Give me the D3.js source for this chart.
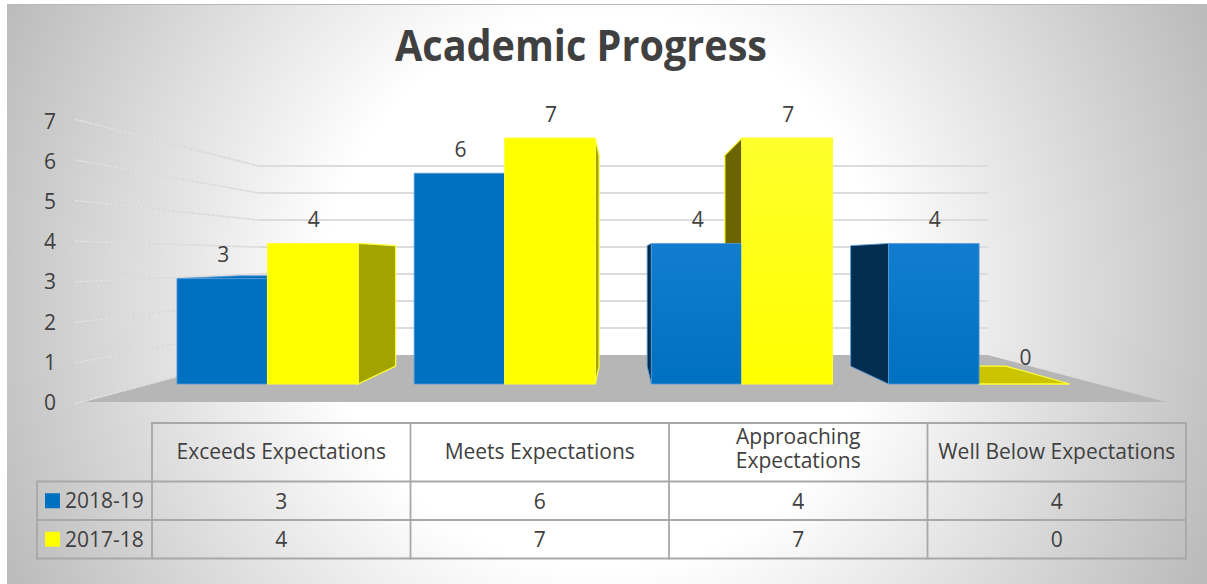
<!DOCTYPE html>
<html>
<head>
<meta charset="utf-8">
<script src="https://cdn.jsdelivr.net/npm/d3@7/dist/d3.min.js"></script>
<style>
  html, body { margin: 0; padding: 0; background: #fff; }
  svg { display: block; }
  text { font-family: "Open Sans", sans-serif; fill: #404040; }
</style>
</head>
<body>
<div id="chart"></div>
<script>
const titleText = "Academic Progress";
const categories = ["Exceeds Expectations", "Meets Expectations", "Approaching Expectations", "Well Below Expectations"];
const seriesNames = ["2018-19", "2017-18"];
const values2018 = [3, 6, 4, 4];
const values2017 = [4, 7, 7, 0];
const yTicks = [0, 1, 2, 3, 4, 5, 6, 7];

const width = 1207, height = 584;
const seriesValues = [values2018, values2017];
const seriesColor = d3.scaleOrdinal(seriesNames, ["#0070C0", "#FFFF00"]);
const labelSize = 21;

const svg = d3.select("#chart").append("svg")
  .attr("width", width).attr("height", height)
  .attr("viewBox", `0 0 ${width} ${height}`);

const defs = svg.append("defs");
const panelGrad = defs.append("radialGradient").attr("id", "panel")
  .attr("gradientUnits", "userSpaceOnUse")
  .attr("cx", 603).attr("cy", 290).attr("r", 660);
panelGrad.append("stop").attr("offset", 0.42).attr("stop-color", "#ffffff");
panelGrad.append("stop").attr("offset", 1).attr("stop-color", "#bbbbbb");

const blueLit = defs.append("linearGradient").attr("id", "blueLit")
  .attr("x1", 0).attr("y1", 0).attr("x2", 0).attr("y2", 1);
blueLit.append("stop").attr("offset", 0).attr("stop-color", "#127DD0");
blueLit.append("stop").attr("offset", 1).attr("stop-color", "#0070C0");

const yellowLit = defs.append("linearGradient").attr("id", "yellowLit")
  .attr("x1", 0).attr("y1", 0).attr("x2", 0).attr("y2", 1);
yellowLit.append("stop").attr("offset", 0).attr("stop-color", "#FFFF2C");
yellowLit.append("stop").attr("offset", 1).attr("stop-color", "#FFFF00");

// Panel background with its thin top rule
svg.append("rect").attr("x", 7).attr("y", 4).attr("width", width - 7).attr("height", height - 4)
  .attr("fill", "url(#panel)");
svg.append("line").attr("x1", 7).attr("x2", width).attr("y1", 4.5).attr("y2", 4.5)
  .attr("stroke", "#b8b8b8").attr("stroke-width", 1);

svg.append("text").attr("x", 581).attr("y", 61).attr("text-anchor", "middle")
  .attr("font-size", 43).attr("font-weight", 700)
  .attr("textLength", 372).attr("lengthAdjust", "spacingAndGlyphs").text(titleText);

// Scales live on the front edge of the floor; project() pushes a point towards the vanishing point
const vanish = { x: 622, y: 258.6 };
const depth = { front: 0, barFront: 0.1255, barBack: 0.25, wall: 0.3278 };
const x0 = d3.scaleBand().domain(categories).range([81, 1166]);
const x1 = d3.scaleBand().domain(seriesNames).range([0, x0.bandwidth()]).paddingOuter(0.31).paddingInner(0);
const y = d3.scaleLinear().domain([0, 7]).range([402, 120.8]);
const project = (px, py, t) => [px + (vanish.x - px) * t, py + (vanish.y - py) * t];
const poly = pts => pts.map(p => p.join(",")).join(" ");

const plot = svg.append("g");

// Floor
plot.append("polygon").attr("fill", "#B6B6B6").attr("points", poly([
  project(x0.range()[0], y(0), depth.front),
  project(x0.range()[1], y(0), depth.front),
  project(x0.range()[1], y(0), depth.wall),
  project(x0.range()[0], y(0), depth.wall)
]));

// Back wall and side wall gridlines
const wallStart = -0.01;
plot.selectAll("line.wall").data(yTicks.slice(1)).join("line").attr("class", "wall")
  .attr("x1", project(x0.range()[0], 0, depth.wall)[0])
  .attr("x2", project(x0.range()[1], 0, depth.wall)[0])
  .attr("y1", d => project(0, y(d), depth.wall)[1])
  .attr("y2", d => project(0, y(d), depth.wall)[1])
  .attr("stroke", "#DCDCDC").attr("stroke-width", 2);
[["#D8D8D8", null, 1.5, 1], ["#F6F6F6", "2 3", 1, 0.55]].forEach(([stroke, dash, w, alpha]) => {
  plot.append("g").selectAll("line").data(yTicks).join("line")
    .attr("x1", d => project(x0.range()[0], y(d), wallStart)[0])
    .attr("y1", d => project(x0.range()[0], y(d), wallStart)[1])
    .attr("x2", d => project(x0.range()[0], y(d), depth.wall)[0])
    .attr("y2", d => project(x0.range()[0], y(d), depth.wall)[1])
    .attr("stroke", stroke).attr("stroke-width", w).attr("stroke-dasharray", dash)
    .attr("stroke-opacity", alpha);
});

// Axis labels
plot.append("g").selectAll("text").data(yTicks).join("text")
  .attr("x", 50).attr("y", d => y(d) + 8).attr("text-anchor", "middle")
  .attr("font-size", labelSize).text(d => d);

// One record per bar, holding its projected corner points
const bars = [];
categories.forEach((cat, i) => seriesNames.forEach((name, s) => {
  const value = seriesValues[s][i];
  const left = x0(cat) + x1(name), right = left + x1.bandwidth();
  const lit = project(left, y(0), depth.barFront)[0] > vanish.x;
  bars.push({ cat, name, value, left, right, lit,
    towardsRight: (left + right) / 2 < vanish.x });
}));

const sideColor = d => d.name === seriesNames[0]
  ? (d.towardsRight ? "#00518C" : "#002D50")
  : (d.towardsRight ? "#A3A300" : "#6B6400");
const edgeColor = d => d.name === seriesNames[0] ? "#5B9BD5" : "#FFFF33";
const edgeWidth = d => d.name === seriesNames[0] ? 0.8 : 1.2;
const topVisible = d => project(0, y(d.value), depth.barFront)[1] > vanish.y;

// Side faces, then top faces seen from above, then front faces, so nearer surfaces paint over farther ones
plot.append("g").selectAll("polygon").data(bars.filter(d => d.value > 0)).join("polygon")
  .attr("fill", sideColor).attr("stroke", edgeColor).attr("stroke-width", edgeWidth)
  .attr("points", d => {
    const sx = d.towardsRight ? d.right : d.left;
    return poly([
      project(sx, y(0), depth.barFront), project(sx, y(d.value), depth.barFront),
      project(sx, y(d.value), depth.barBack), project(sx, y(0), depth.barBack)
    ]);
  });

plot.append("g").selectAll("polygon").data(bars.filter(topVisible)).join("polygon")
  .attr("fill", d => d.name === seriesNames[0] ? "#0070C0" : "#CBC400")
  .attr("stroke", edgeColor).attr("stroke-width", edgeWidth)
  .attr("points", d => poly([
    project(d.left, y(d.value), depth.barFront), project(d.right, y(d.value), depth.barFront),
    project(d.right, y(d.value), depth.barBack), project(d.left, y(d.value), depth.barBack)
  ]));

plot.append("g").selectAll("polygon").data(bars).join("polygon")
  .attr("fill", d => d.name === seriesNames[0]
    ? (d.lit ? "url(#blueLit)" : seriesColor(d.name))
    : (d.lit ? "url(#yellowLit)" : seriesColor(d.name)))
  .attr("stroke", edgeColor).attr("stroke-width", edgeWidth)
  .attr("points", d => poly([
    project(d.left, y(0), depth.barFront), project(d.right, y(0), depth.barFront),
    project(d.right, y(d.value), depth.barFront), project(d.left, y(d.value), depth.barFront)
  ]));

// Value labels over the bars
plot.append("g").selectAll("text").data(bars).join("text")
  .attr("x", d => project((d.left + d.right) / 2, 0, depth.barFront)[0] + 1)
  .attr("y", d => project(0, y(d.value), depth.barFront)[1] - (d.value === 0 ? 19 : 16.5))
  .attr("text-anchor", "middle").attr("font-size", labelSize).text(d => d.value);

// Data table under the plot
const tableX = d3.scaleBand().domain(categories).range([152, 1186]);
const rowY = d3.scaleBand().domain(seriesNames).range([481.5, 558.5]);
const table = svg.append("g");
const ruleColor = "#A8A8A8";
const rule = (x1v, y1v, x2v, y2v) => table.append("line")
  .attr("x1", x1v).attr("y1", y1v).attr("x2", x2v).attr("y2", y2v)
  .attr("stroke", ruleColor).attr("stroke-width", 1.8).attr("stroke-linecap", "square");

rule(152, 423, 1186, 423);
rule(37, rowY.range()[0], 1186, rowY.range()[0]);
rowY.domain().forEach(n => rule(37, rowY(n) + rowY.bandwidth(), 1186, rowY(n) + rowY.bandwidth()));
rule(37, rowY.range()[0], 37, rowY.range()[1]);
categories.forEach(c => rule(tableX(c), 423, tableX(c), rowY.range()[1]));
rule(1186, 423, 1186, rowY.range()[1]);

// Header cells wrap onto two lines when the text would crowd the cell
table.append("g").selectAll("text").data(categories).join("text")
  .attr("text-anchor", "middle").attr("font-size", labelSize)
  .each(function (c) {
    const el = d3.select(this);
    const cx = tableX(c) + tableX.bandwidth() / 2;
    el.text(c);
    if (this.getComputedTextLength() > tableX.bandwidth() - 8) {
      const words = c.split(" ");
      el.text(null);
      words.forEach((w, k) => el.append("tspan").attr("x", cx).attr("y", 444 + k * 24).text(w));
    } else {
      el.attr("x", cx).attr("y", 459);
    }
  });

seriesNames.forEach((name, s) => {
  const top = rowY(name), h = rowY.bandwidth();
  table.append("rect").attr("x", 45).attr("y", top + h / 2 - 7.5).attr("width", 15).attr("height", 15)
    .attr("fill", seriesColor(name));
  table.append("text").attr("x", 65).attr("y", top + h / 2 + 7.5).attr("font-size", labelSize).text(name);
  table.append("g").selectAll("text").data(seriesValues[s]).join("text")
    .attr("x", (d, i) => tableX(categories[i]) + tableX.bandwidth() / 2)
    .attr("y", top + h / 2 + 8).attr("text-anchor", "middle").attr("font-size", labelSize).text(d => d);
});
</script>
</body>
</html>
